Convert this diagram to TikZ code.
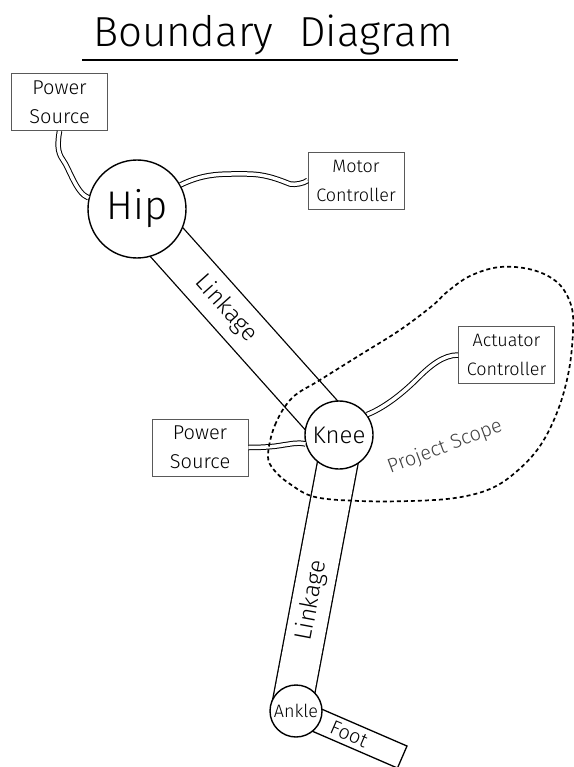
\documentclass[tikz,border=0pt]{standalone}
\usepackage{fontspec}
\setmainfont{Fira Sans Light}

\begin{document}
\begin{tikzpicture}[x=1pt,y=-1pt,
  joint/.style={circle,draw,fill=white,line width=1.4pt,inner sep=0pt},
  unit/.style={draw=black!65,line width=0.9pt,minimum width=96pt,minimum height=57pt,
    align=center,inner sep=0pt,font=\fontsize{20}{29}\selectfont},
  bar/.style={line width=1.3pt,double,double distance=42pt},
  cable/.style={line width=1pt,double,double distance=3.5pt}]
\useasboundingbox (0,0) rectangle (573,767);

% joint centres
\coordinate (hipc) at (137,209);
\coordinate (kneec) at (339,435);
\coordinate (anklec) at (296,711);

% links
\draw[bar] (hipc) -- node[sloped,pos=0.44,font=\fontsize{24}{26}\selectfont]{Linkage} (kneec);
\draw[bar,double distance=39pt] ([xshift=4pt]kneec) --
  node[sloped,pos=0.6,font=\fontsize{24}{26}\selectfont]{Linkage} ([xshift=-5pt]anklec);
\node[draw,fill=white,line width=1.3pt,minimum width=116pt,minimum height=24pt,
  rotate=-23.4,font=\fontsize{20}{22}\selectfont] (foot) at (349,734) {Foot};

% joints
\node[joint,minimum size=98pt,font=\fontsize{40}{44}\selectfont] (hip) at (hipc) {Hip};
\node[joint,minimum size=68pt,font=\fontsize{24}{26}\selectfont] (knee) at (kneec) {Knee};
\node[joint,minimum size=52pt,font=\fontsize{18}{20}\selectfont] (ankle) at (anklec) {Ankle};

% outside units
\node[unit] (pwrA) at (59.5,102) {Power\\Source};
\node[unit,font=\fontsize{18}{29}\selectfont] (mtr) at (356,180.5) {Motor\\Controller};
\node[unit,font=\fontsize{18}{29}\selectfont] (act) at (506.5,355) {Actuator\\Controller};
\node[unit] (pwrB) at (200,447.5) {Power\\Source};

% wiring
\draw[cable] (pwrA.south) .. controls +(-2,12) and +(-6,-8) .. (63,160)
  .. controls +(6,8) and +(-12,-4) .. (hip.167);
\draw[cable] (hip.29) .. controls +(25,-12) and +(-25,0) .. (247,174)
  .. controls +(20,0) and +(-8,-3) .. (290,184)
  .. controls +(5,1) and +(-4,3) .. (mtr.west);
\draw[cable] (knee.36) .. controls +(20,-8) and +(-12,12) .. (418,378)
  .. controls +(12,-12) and +(-15,0) .. (act.west);
\draw[cable] (pwrB.east) .. controls +(10,0) and +(-10,2) .. (283,445)
  .. controls +(8,-1) and +(-8,-2) .. (knee.195);

% project scope
\draw[line width=1.7pt,dash pattern=on 4pt off 3pt] plot[smooth cycle,tension=0.6] coordinates {
  (268,455) (275,425) (292,398) (320,380) (360,355) (400,330) (432,306) (447,292)
  (470,276) (500,267) (533,270) (558,283) (571,305) (573,330) (569,370) (558,410)
  (540,446) (516,472) (490,489) (455,498) (410,501) (360,501) (315,497) (290,484)
  (274,470)};
\node[rotate=20.6,text=black!75,font=\fontsize{20}{22}\selectfont] (scope) at (445,447) {Project Scope};

% heading
\node[anchor=base,font=\fontsize{42}{46}\selectfont] (title) at (273,47) {Boundary\hspace{26pt}Diagram};
\draw[line width=2.5pt] (82,60) -- (458,60);
\end{tikzpicture}
\end{document}
